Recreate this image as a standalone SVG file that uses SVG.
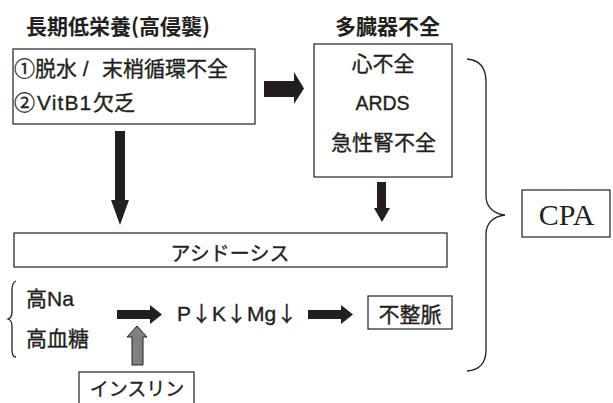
<svg xmlns="http://www.w3.org/2000/svg" width="613" height="403" viewBox="0 0 613 403">
<style>
.box{fill:#fff;stroke:#231f20;stroke-width:1.2}
.t{font-family:"Liberation Sans","Noto Sans CJK JP",sans-serif;font-size:21px;fill:#231f20;stroke:#231f20;stroke-width:0.35}
.j{font-family:"Noto Sans CJK JP",sans-serif}
.b{font-weight:bold;stroke-width:0}
.m{text-anchor:middle}
.arr{fill:#231f20}
.garr{fill:#808080;stroke:#231f20;stroke-width:1}
.brace{fill:none;stroke:#231f20;stroke-width:1.3}
</style>
<rect width="613" height="403" fill="#fff"/>
<g id="title-left"><text class="t j b" x="26" y="33.5">長期低栄養(高侵襲)</text></g>
<g id="title-right"><text class="t j b m" x="387.5" y="33.5">多臓器不全</text></g>
<g id="box-causes">
<rect class="box" x="13" y="49" width="242" height="75"/>
<text class="t" x="14" y="75.5"><tspan class="j">①脱水</tspan> / <tspan class="j" x="102">末梢循環不全</tspan></text>
<text class="t" x="14" y="110"><tspan class="j">②</tspan><tspan x="37" style="letter-spacing:1.1px">VitB1</tspan><tspan class="j" x="93">欠乏</tspan></text>
</g>
<g id="box-organ">
<rect class="box" x="314" y="44" width="138" height="133"/>
<text class="t j m" x="383" y="70.5">心不全</text>
<text class="t m" x="382.5" y="110" style="font-size:19.5px">ARDS</text>
<text class="t j m" x="383.5" y="149.5">急性腎不全</text>
</g>
<g id="box-acidosis">
<rect class="box" x="14" y="233" width="433" height="34"/>
<text class="t j m" x="230" y="260.5" style="font-size:20px">アシドーシス</text>
</g>
<g id="electrolytes">
<text class="t" x="26" y="306"><tspan class="j">高</tspan>Na</text>
<text class="t j" x="26" y="346">高血糖</text>
</g>
<g id="pkmg"><text class="t" x="177" y="321">P<tspan class="j">↓</tspan>K<tspan class="j">↓</tspan>Mg<tspan class="j">↓</tspan></text></g>
<g id="box-arrhythmia">
<rect class="box" x="368" y="296" width="84" height="33"/>
<text class="t j m" x="410" y="321.5">不整脈</text>
</g>
<g id="box-insulin">
<rect class="box" x="79" y="372" width="115" height="40"/>
<text class="t j m" x="137" y="396" style="font-size:19px">インスリン</text>
</g>
<g id="box-cpa">
<rect class="box" x="522" y="190" width="88" height="47"/>
<text x="566.5" y="225" text-anchor="middle" style="font-family:'Liberation Serif',serif;font-size:30px;fill:#231f20">CPA</text>
</g>
<g id="braces">
<path class="brace" d="M467,59 C480,60 486,68 486,82 L486,196 C486,207 494,214 505,215 C494,216 486,223 486,234 L486,350 C486,363 480,370 467,371"/>
<path class="brace" d="M16,281 C13,282 12,285 12,290 L12,312 C12,316 11,318 8,319 C11,320 12,322 12,326 L12,350 C12,355 13,357 16,357"/>
</g>
<g id="connectors">
<polygon class="arr" points="264,81 294,81 294,72 304,88.5 294,104 294,97 264,97"/>
<polygon class="arr" points="115,131 125,131 125,200 129,200 120,225 111,200 115,200"/>
<polygon class="arr" points="377,182 386,182 386,208 390,208 382,222 374,208 377,208"/>
<polygon class="arr" points="117,310 150,310 150,305 162,314.5 150,324 150,319 117,319"/>
<polygon class="arr" points="308,310 341,310 341,305 353,314.5 341,324 341,319 308,319"/>
<polygon class="garr" points="132,365 143,365 143,337 147,337 137,326 127,337 132,337"/>
</g>
</svg>
